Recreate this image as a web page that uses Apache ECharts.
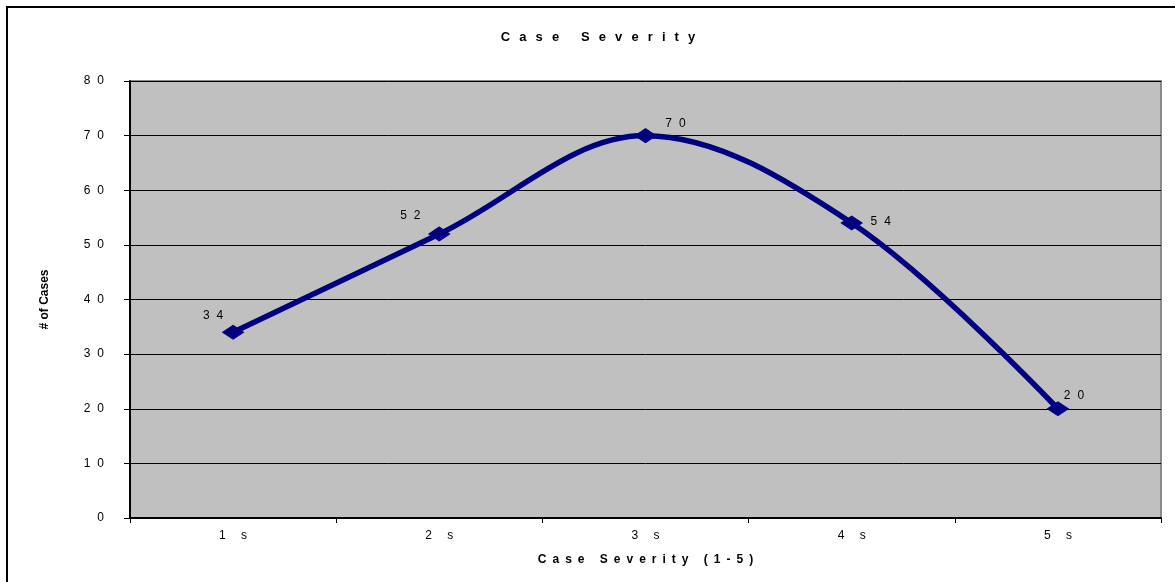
<!DOCTYPE html>
<html>
<head>
<meta charset="utf-8">
<title>Case Severity</title>
<script src="https://cdn.jsdelivr.net/npm/echarts@6/dist/echarts.min.js"></script>
<style>
  html, body { margin: 0; padding: 0; background: #ffffff; }
  #chart { width: 1175px; height: 582px; }
</style>
</head>
<body>
<div id="chart"></div>
<script>
// Severity levels and number of cases at each level
const categories = ['1s', '2s', '3s', '4s', '5s'];
const caseCounts = [34, 52, 70, 54, 20];

// Where each value label sits relative to its marker (px)
const labelOffsets = [[-20, -17], [-29, -18], [30, -12], [29, -1], [16, -13]];

// Wide letter spacing, in the style of the workbook's chart fonts
function spaced(s, gap) { return String(s).split('').join(gap || '\u2002'); }
const WIDE = '\u2002\u2009';
const MID = '\u2002\u200a';

const FONT = '"Liberation Sans", Arial, sans-serif';
const NAVY = '#000080';

const chart = echarts.init(document.getElementById('chart'), null, { renderer: 'canvas' });

chart.setOption({
  backgroundColor: '#ffffff',
  animation: false,
  title: {
    text: spaced('Case Severity', WIDE),
    left: 593,
    top: 26,
    textAlign: 'center',
    textStyle: { fontFamily: FONT, fontSize: 13, fontWeight: 'bold', color: '#000' }
  },
  graphic: [{
    type: 'rect',
    shape: { x: 7, y: 7, width: 1240, height: 640 },
    style: { fill: 'none', stroke: '#000', lineWidth: 2 },
    z: 100
  }],
  grid: {
    left: 130, right: 14, top: 81, bottom: 64,
    show: true,
    backgroundColor: '#c0c0c0',
    borderColor: '#8a8a8a',
    borderWidth: 2
  },
  xAxis: {
    type: 'category',
    data: categories,
    boundaryGap: true,
    name: spaced('Case Severity (1-5)'),
    nameLocation: 'middle',
    nameGap: 36,
    nameTextStyle: { fontFamily: FONT, fontSize: 12, fontWeight: 'bold', color: '#000' },
    axisLine: { lineStyle: { color: '#000', width: 2 } },
    axisTick: { show: true, length: 5, inside: false, lineStyle: { color: '#000', width: 1 } },
    axisLabel: {
      margin: 12,
      fontFamily: FONT, fontSize: 12, color: '#000',
      formatter: v => spaced(v.replace(/(\d)(s)/, '$1 $2'))
    },
    splitLine: { show: false }
  },
  yAxis: {
    type: 'value',
    min: 0, max: 80, interval: 10,
    name: '# of Cases',
    nameLocation: 'middle',
    nameRotate: 90,
    nameGap: 79,
    nameTextStyle: { fontFamily: FONT, fontSize: 12, fontWeight: 'bold', color: '#000' },
    axisLine: { show: true, lineStyle: { color: '#000', width: 2 } },
    axisTick: { show: true, length: 6, inside: false, lineStyle: { color: '#000', width: 1 } },
    axisLabel: {
      margin: 26,
      fontFamily: FONT, fontSize: 12, color: '#000',
      formatter: v => spaced(v, MID)
    },
    splitLine: { show: true, lineStyle: { color: '#000', width: 1 } }
  },
  series: [{
    type: 'line',
    data: caseCounts.map((v, i) => ({
      value: v,
      label: { offset: labelOffsets[i] }
    })),
    smooth: 0.35,
    symbol: 'diamond',
    symbolSize: [21, 14],
    lineStyle: { color: NAVY, width: 5.5 },
    itemStyle: { color: NAVY, borderColor: NAVY },
    label: {
      show: true,
      position: 'inside',
      align: 'center',
      verticalAlign: 'middle',
      fontFamily: FONT, fontSize: 12, color: '#000',
      formatter: p => spaced(p.value, MID)
    },
    z: 3
  }]
});
</script>
</body>
</html>
